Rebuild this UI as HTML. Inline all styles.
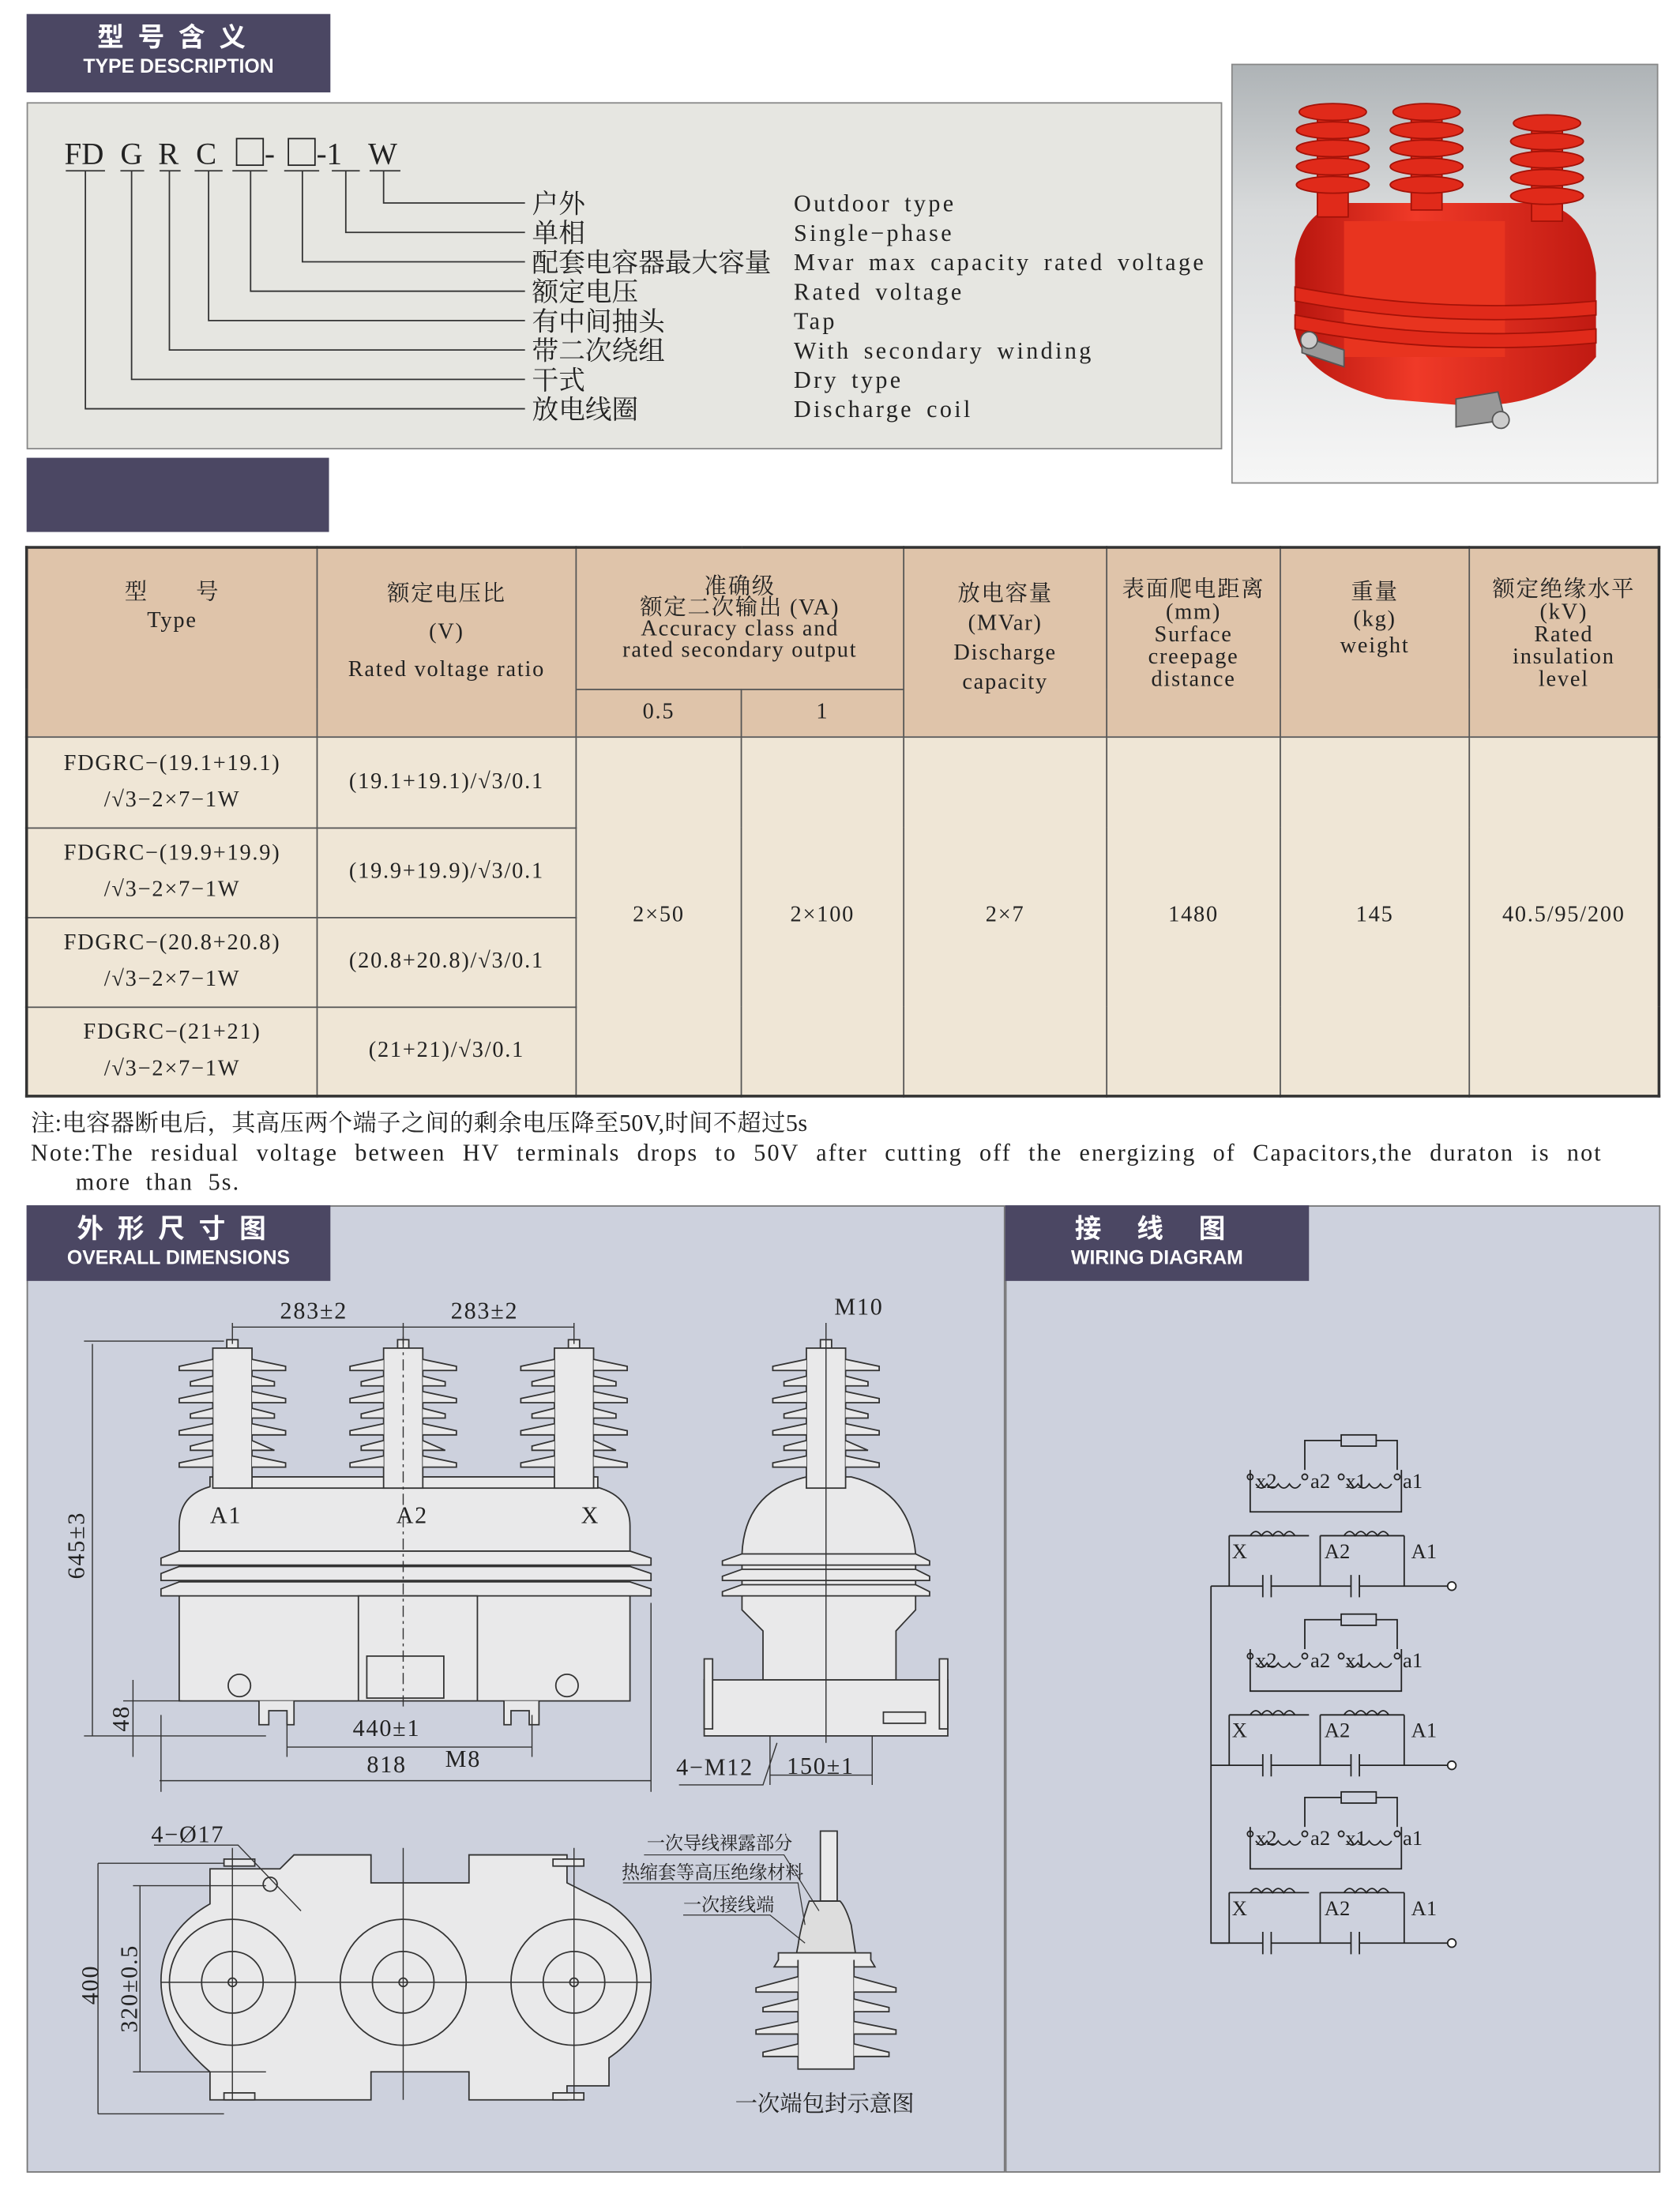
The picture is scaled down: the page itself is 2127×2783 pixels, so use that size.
<!DOCTYPE html>
<html><head><meta charset="utf-8"><style>
html,body{margin:0;padding:0;background:#fff;}
body{width:2127px;height:2783px;overflow:hidden;position:relative;}
#w{position:absolute;left:0;top:0;width:1200px;height:1570px;transform:scale(1.7725);transform-origin:0 0;font-family:"Liberation Serif","Noto Serif CJK SC",serif;color:#222;}
.hd{position:absolute;background:#4b4763;color:#fff;text-align:center;font-family:"Liberation Sans","Noto Sans CJK SC",sans-serif;font-weight:bold;}
.hd .c{font-size:19px;letter-spacing:10px;line-height:22px;margin-top:7px}
.hd .e{font-size:14px;line-height:16px;letter-spacing:0px}
table{position:absolute;left:18px;top:390px;border-collapse:collapse;border:2px solid #333;font-size:16px;text-align:center;}
td{border:1px solid #555;padding:0;line-height:20px;letter-spacing:1px}
.th td{background:#dfc4aa}
.bd td{background:#efe6d6}
</style></head><body><div id="w">

<div class="hd" style="left:19px;top:10px;width:217px;height:56px"><div class="c">型号含义</div><div class="e">TYPE DESCRIPTION</div></div>

<div style="position:absolute;left:19px;top:73px;width:852px;height:246px;background:#e6e6e1;border:1px solid #888;"></div>
<svg style="position:absolute;left:0;top:0" width="1200" height="400">
<g font-family="Liberation Serif,Noto Serif CJK SC,serif" font-size="22" fill="#222">
<text x="46" y="117">FD</text><text x="86" y="117">G</text><text x="113" y="117">R</text><text x="140" y="117">C</text>
<rect x="169" y="99" width="19" height="19" fill="none" stroke="#222"/><text x="189" y="117">-</text>
<rect x="206" y="99" width="19" height="19" fill="none" stroke="#222"/><text x="226" y="117">-1</text><text x="263" y="117">W</text>
</g>
<g stroke="#333" stroke-width="1" fill="none">
<path d="M47 122H75M86 122H103M114 122H129M139 122H159M166 122H191M203 122H228M237 122H257M264 122H286"/>
<path d="M274 122V145H375M247 122V166H375M216 122V187H375M179 122V208H375M149 122V229H375M121 122V250H375M94 122V271H375M61 122V292H375"/>
</g>
<g font-family="Liberation Serif,Noto Serif CJK SC,serif" font-size="19" fill="#222">
<text x="380" y="152">户外</text><text x="380" y="173">单相</text><text x="380" y="194">配套电容器最大容量</text><text x="380" y="215">额定电压</text><text x="380" y="236">有中间抽头</text><text x="380" y="257">带二次绕组</text><text x="380" y="278">干式</text><text x="380" y="299">放电线圈</text>
</g>
<g font-family="Liberation Serif" font-size="17" fill="#222" letter-spacing="1.9" word-spacing="3"><text x="567" y="151">Outdoor type</text><text x="567" y="172">Single−phase</text><text x="567" y="193">Mvar max capacity rated voltage</text><text x="567" y="214">Rated voltage</text><text x="567" y="235">Tap</text><text x="567" y="256">With secondary winding</text><text x="567" y="277">Dry type</text><text x="567" y="298">Discharge coil</text></g>
<defs><linearGradient id="pb" x1="0" y1="0" x2="0" y2="1"><stop offset="0" stop-color="#aeb3b6"/><stop offset=".35" stop-color="#d8dadb"/><stop offset="1" stop-color="#f6f6f6"/></linearGradient>
<linearGradient id="rd" x1="0" y1="0" x2="1" y2="0"><stop offset="0" stop-color="#b8160f"/><stop offset=".4" stop-color="#f03a28"/><stop offset="1" stop-color="#c01a12"/></linearGradient></defs>
<rect x="880" y="46" width="304" height="299" fill="url(#pb)" stroke="#888"/>
<g fill="url(#rd)">
<path d="M925 185 Q930 150 960 145 L1100 145 Q1135 150 1140 195 L1140 255 Q1110 290 1050 290 L990 285 Q930 270 925 235Z"/>
<path d="M960 158 H1075 V255 H960Z" fill="#e8341f"/>
</g>
<g fill="#e02a1a" stroke="#a31208" stroke-width="1">
<rect x="941" y="80" width="22" height="75"/><rect x="1008" y="80" width="22" height="70"/><rect x="1094" y="88" width="22" height="70"/>
<ellipse cx="952" cy="80" rx="24" ry="6"/><ellipse cx="952" cy="93" rx="26" ry="6"/><ellipse cx="952" cy="106" rx="26" ry="6"/><ellipse cx="952" cy="119" rx="26" ry="6"/><ellipse cx="952" cy="132" rx="26" ry="6"/>
<ellipse cx="1019" cy="80" rx="24" ry="6"/><ellipse cx="1019" cy="93" rx="26" ry="6"/><ellipse cx="1019" cy="106" rx="26" ry="6"/><ellipse cx="1019" cy="119" rx="26" ry="6"/><ellipse cx="1019" cy="132" rx="26" ry="6"/>
<ellipse cx="1105" cy="88" rx="24" ry="6"/><ellipse cx="1105" cy="101" rx="26" ry="6"/><ellipse cx="1105" cy="114" rx="26" ry="6"/><ellipse cx="1105" cy="127" rx="26" ry="6"/><ellipse cx="1105" cy="140" rx="26" ry="6"/>
<path d="M925 205 Q1030 225 1140 215 L1140 225 Q1030 235 925 215Z"/><path d="M925 225 Q1030 245 1140 235 L1140 245 Q1030 255 925 235Z"/>
</g>
<g fill="#999" stroke="#555"><path d="M930 240 L960 250 L960 262 L930 252Z"/><path d="M1040 285 L1070 280 L1075 300 L1040 305Z"/><circle cx="935" cy="243" r="6" fill="#ccc"/><circle cx="1072" cy="300" r="6" fill="#ccc"/></g>
</svg>

<div class="hd" style="left:19px;top:327px;width:216px;height:53px"></div>

<table>
<tr class="th" style="height:101px"><td rowspan="2" style="width:206px;vertical-align:top;padding-top:22px">型　　号<br>Type</td>
<td rowspan="2" style="width:184px;line-height:27px;vertical-align:top;padding-top:19px">额定电压比<br>(V)<br>Rated  voltage  ratio</td>
<td colspan="2" style="line-height:15px;font-size:16px">准确级<br>额定二次输出 (VA)<br>Accuracy class and<br>rated secondary output</td>
<td rowspan="2" style="width:144px;vertical-align:top;padding-top:22px;line-height:21px">放电容量<br>(MVar)<br>Discharge<br>capacity</td>
<td rowspan="2" style="width:123px;vertical-align:top;padding-top:22px;line-height:16px">表面爬电距离<br>(mm)<br>Surface<br>creepage<br>distance</td>
<td rowspan="2" style="width:134px;vertical-align:top;padding-top:22px;line-height:19px">重量<br>(kg)<br>weight</td>
<td rowspan="2" style="width:134px;vertical-align:top;padding-top:22px;line-height:16px">额定绝缘水平<br>(kV)<br>Rated<br>insulation<br>level</td></tr>
<tr class="th" style="height:34px"><td style="width:117px">0.5</td><td style="width:115px">1</td></tr>
<tr class="bd" style="height:65px"><td style="line-height:26px">FDGRC−(19.1+19.1)<br>/√3−2×7−1W</td><td>(19.1+19.1)/√3/0.1</td>
<td rowspan="4">2×50</td><td rowspan="4">2×100</td><td rowspan="4">2×7</td><td rowspan="4">1480</td><td rowspan="4">145</td><td rowspan="4">40.5/95/200</td></tr>
<tr class="bd" style="height:64px"><td style="line-height:26px">FDGRC−(19.9+19.9)<br>/√3−2×7−1W</td><td>(19.9+19.9)/√3/0.1</td></tr>
<tr class="bd" style="height:64px"><td style="line-height:26px">FDGRC−(20.8+20.8)<br>/√3−2×7−1W</td><td>(20.8+20.8)/√3/0.1</td></tr>
<tr class="bd" style="height:64px"><td style="line-height:26px">FDGRC−(21+21)<br>/√3−2×7−1W</td><td>(21+21)/√3/0.1</td></tr>
</table>

<div style="position:absolute;left:22px;top:792px;font-size:17px;line-height:21px;width:1175px;letter-spacing:.3px">注:电容器断电后，其高压两个端子之间的剩余电压降至50V,时间不超过5s<br><span style="letter-spacing:1.2px;word-spacing:6.5px;white-space:nowrap">Note:The residual voltage between HV terminals drops to 50V after cutting off the energizing of Capacitors,the duraton is not</span><br><span style="letter-spacing:1.2px;word-spacing:5px;padding-left:32px">more than 5s.</span></div>

<div style="position:absolute;left:19px;top:861px;width:697px;height:689px;background:#cdd1dd;border:1px solid #777;"></div>
<div style="position:absolute;left:718px;top:861px;width:466px;height:689px;background:#cdd1dd;border:1px solid #777;"></div>
<div class="hd" style="left:19px;top:861px;width:217px;height:54px"><div class="c">外形尺寸图</div><div class="e">OVERALL DIMENSIONS</div></div>
<div class="hd" style="left:718px;top:861px;width:217px;height:54px"><div class="c">接 线 图</div><div class="e">WIRING DIAGRAM</div></div>

<svg style="position:absolute;left:0;top:0" width="1200" height="1570">
<defs>
<g id="ins" stroke="#333" stroke-width="1" fill="#e9e9ea">
<rect x="-4" y="-6" width="8" height="6"/>
<rect x="-14" y="0" width="28" height="100"/>
<path d="M-14 8L-38 13V16H-14M14 8L38 13V16H14"/>
<path d="M-14 20L-30 24V27H-14M14 20L30 24V27H14"/>
<path d="M-14 31L-38 36V39H-14M14 31L38 36V39H14"/>
<path d="M-14 43L-30 47V50H-14M14 43L30 47V50H14"/>
<path d="M-14 54L-38 59V62H-14M14 54L38 59V62H14"/>
<path d="M-14 66L-30 70V73H-14M14 66L30 73V73H14"/>
<path d="M-14 77L-38 82V85H-14M14 77L38 82V85H14"/>
</g>
<g id="wg" stroke="#222" stroke-width="1" fill="none">
<rect x="958" y="-25" width="25" height="8"/>
<path d="M932 0V-21H958M983 -21H998V0"/>
<path d="M893 0V30H1001V0"/>
<path d="M897 10q4 6 8 0q4 6 8 0q4 6 8 0q4 6 8 0M962 10q4 6 8 0q4 6 8 0q4 6 8 0q4 6 8 0"/>
<circle cx="893" cy="5" r="2"/><circle cx="932" cy="5" r="2"/><circle cx="958" cy="5" r="2"/><circle cx="998" cy="5" r="2"/>
<path d="M878 47H935M943 47H1003M893 47q4 -6 8 0q4 -6 8 0q4 -6 8 0q4 -6 8 0M960 47q4 -6 8 0q4 -6 8 0q4 -6 8 0q4 -6 8 0"/>
<path d="M878 47V83M943 47V83M1003 47V83M865 83H902M908 83H965M971 83H1034M902 75V91M908 75V91M965 75V91M971 75V91"/>
<circle cx="1037" cy="83" r="3" fill="#fff"/>
<g fill="#222" stroke="none" font-family="Liberation Serif" font-size="15"><text x="897" y="13">x2</text><text x="936" y="13">a2</text><text x="961" y="13">x1</text><text x="1002" y="13">a1</text><text x="880" y="63">X</text><text x="946" y="63">A2</text><text x="1008" y="63">A1</text></g>
</g>
</defs>
<use href="#wg" x="0" y="1050"/><use href="#wg" x="0" y="1178"/><use href="#wg" x="0" y="1305"/>
<path d="M865 1133V1388H878" stroke="#222" fill="none"/>

<g stroke="#333" stroke-width="1" fill="#e9e9ea">
<path d="M128 1215V1090Q128 1068 150 1062V1055H425V1062Q450 1068 450 1090V1215Z"/>
<path d="M115 1113L128 1108H450L465 1113V1118H115Z"/><path d="M115 1124L128 1119H450L465 1124V1129H115Z"/><path d="M115 1135L128 1130H450L465 1135V1140H115Z"/>
<rect x="164" y="1055" width="263" height="8"/>
<rect x="256" y="1140" width="85" height="75"/><rect x="262" y="1183" width="55" height="30"/>
<path d="M185 1215V1232H192V1222H205V1232H210V1215M360 1215V1232H365V1222H378V1232H385V1215"/>
<circle cx="171" cy="1204" r="8"/><circle cx="405" cy="1204" r="8"/>
</g>
<use href="#ins" x="166" y="963"/><use href="#ins" x="288" y="963"/><use href="#ins" x="410" y="963"/>
<g stroke="#333" stroke-width=".8" fill="none">
<path d="M166 945V960M288 945V960M410 945V960M166 948H410"/>
<path d="M60 958H160M66 960V1240M60 1240H190M95 1200V1255M88 1215H130M115 1225V1280M465 1145V1280M114 1272H465M205 1248H380M205 1225V1255M380 1225V1255"/>
<path d="M288 955V1220" stroke-dasharray="8 3 2 3"/>
</g>
<g font-family="Liberation Serif" font-size="17" fill="#222" letter-spacing="1">
<text x="200" y="942">283±2</text><text x="322" y="942">283±2</text>
<text x="150" y="1088">A1</text><text x="283" y="1088">A2</text><text x="415" y="1088">X</text>
<text x="252" y="1240">440±1</text><text x="262" y="1266">818</text><text x="318" y="1262">M8</text>
<text transform="translate(60 1128) rotate(-90)">645±3</text><text transform="translate(92 1237) rotate(-90)">48</text>
</g>
<g stroke="#333" stroke-width="1" fill="#e9e9ea">
<path d="M576 1055Q532 1065 530 1110V1150L545 1165V1200H640V1165L654 1150V1110Q650 1065 608 1055Z"/>
<path d="M516 1115L530 1110H654L664 1115V1118H516Z"/><path d="M516 1126L530 1121H654L664 1126V1129H516Z"/><path d="M516 1137L530 1132H654L664 1137V1140H516Z"/>
<rect x="503" y="1200" width="174" height="40"/><rect x="503" y="1185" width="6" height="50"/><rect x="671" y="1185" width="6" height="50"/>
<rect x="631" y="1223" width="30" height="8"/>
</g>
<use href="#ins" x="590" y="963"/>
<g stroke="#333" stroke-width=".8" fill="none"><path d="M590 945V1245M555 1245L545 1275H485M550 1240V1275M623 1240V1275M550 1268H623"/></g>
<g font-family="Liberation Serif" font-size="17" fill="#222" letter-spacing="1"><text x="596" y="939">M10</text><text x="483" y="1268">4−M12</text><text x="562" y="1267">150±1</text></g>
<g stroke="#333" stroke-width="1" fill="#e9e9ea">
<path d="M150 1335H200L210 1325H265V1345H335V1325H405V1345L435 1360Q465 1380 465 1415Q465 1450 435 1470V1490H405V1500H335V1480H265V1500H150V1480H150Q115 1450 115 1415Q115 1380 150 1360Z"/>
<circle cx="166" cy="1416" r="45"/><circle cx="288" cy="1416" r="45"/><circle cx="410" cy="1416" r="45"/>
<circle cx="166" cy="1416" r="22"/><circle cx="288" cy="1416" r="22"/><circle cx="410" cy="1416" r="22"/>
<circle cx="166" cy="1416" r="3"/><circle cx="288" cy="1416" r="3"/><circle cx="410" cy="1416" r="3"/>
<circle cx="193" cy="1346" r="5"/>
<rect x="160" y="1328" width="22" height="5"/><rect x="395" y="1328" width="22" height="5"/><rect x="160" y="1495" width="22" height="5"/><rect x="395" y="1495" width="22" height="5"/>
</g>
<g stroke="#333" stroke-width=".8" fill="none"><path d="M70 1331H160M70 1331V1510M70 1510H160M100 1347V1480M95 1347H190M95 1480H190M110 1318H170L215 1365M166 1320V1500M288 1320V1500M410 1320V1500M115 1416H465"/></g>
<g font-family="Liberation Serif" font-size="17" fill="#222" letter-spacing="1"><text x="108" y="1316">4−Ø17</text>
<text transform="translate(70 1432) rotate(-90)">400</text><text transform="translate(98 1452) rotate(-90)">320±0.5</text></g>
<g stroke="#333" stroke-width="1" fill="#e9e9ea">
<rect x="586" y="1308" width="12" height="50"/>
<path d="M578 1358Q572 1375 570 1390L569 1395H611L608 1375Q604 1362 600 1358Z" fill="#ddd"/>
<path d="M556 1395H622V1400L625 1405H553L556 1400Z"/>
<path d="M570 1400V1478H610V1400"/>
<path d="M570 1412L540 1420V1423H570M610 1412L640 1420V1423H610M570 1428L545 1434V1437H570M610 1428L635 1434V1437H610M570 1444L540 1450V1453H570M610 1444L640 1450V1453H610M570 1460L545 1466V1469H570M610 1460L635 1466V1469H610"/>
</g>
<g stroke="#333" stroke-width=".7" fill="none"><path d="M460 1325H560L585 1365M445 1345H570L575 1375M488 1368H550L575 1388"/></g>
<g font-family="Liberation Serif,Noto Serif CJK SC,serif" font-size="13" fill="#222"><text x="462" y="1321">一次导线裸露部分</text><text x="444" y="1342">热缩套等高压绝缘材料</text><text x="488" y="1365">一次接线端</text>
<text x="525" y="1508" font-size="16">一次端包封示意图</text></g>
</svg>
</div></body></html>
